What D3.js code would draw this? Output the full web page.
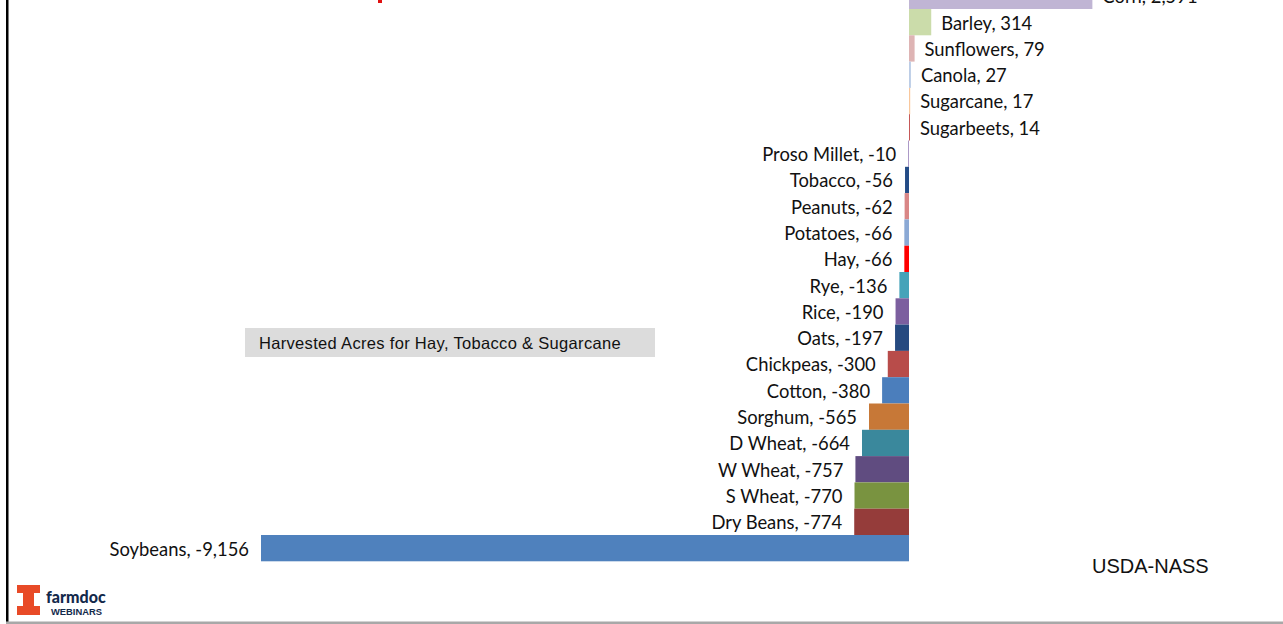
<!DOCTYPE html>
<html>
<head>
<meta charset="utf-8">
<script src="https://cdn.jsdelivr.net/npm/d3@7"></script>
<style>
  body { margin: 0; background: #fff; }
  svg { display: block; }
</style>
</head>
<body>
<script>
const width = 1283,
  height = 624;

// Change in planted acres (1,000 acres), top to bottom
const crops = ["Corn", "Barley", "Sunflowers", "Canola", "Sugarcane", "Sugarbeets",
  "Proso Millet", "Tobacco", "Peanuts", "Potatoes", "Hay", "Rye", "Rice", "Oats",
  "Chickpeas", "Cotton", "Sorghum", "D Wheat", "W Wheat", "S Wheat", "Dry Beans", "Soybeans"];
const values = [2591, 314, 79, 27, 17, 14, -10, -56, -62, -66, -66, -136, -190, -197,
  -300, -380, -565, -664, -757, -770, -774, -9156];
const colors = ["#c0b5d4", "#cbdcaa", "#deb4b4", "#bccde6", "#f9c79c", "#c65757",
  "#8a6fb0", "#244c86", "#d98686", "#8ba9d5", "#ff0000", "#45a3b9", "#7c5f9f", "#264a80",
  "#b84c4a", "#4b7ebc", "#c77837", "#3a889c", "#604c80", "#799340", "#953c3a", "#4f81bd"];

const fmt = d3.formatLocale({ decimal: ".", thousands: ",", grouping: [3], currency: ["", ""], minus: "-" }).format(",");

const data = crops.map((c, i) => ({ crop: c, value: values[i], color: colors[i] }));

const svg = d3.select("body").append("svg")
  .attr("width", width)
  .attr("height", height);

const x = d3.scaleLinear()
  .domain([-9156, 0])
  .range([261, 909]);

const y = d3.scaleBand()
  .domain(crops)
  .range([-17.3, 561.3])
  .padding(0);

svg.selectAll("rect.bar")
  .data(data)
  .enter()
  .append("rect")
  .attr("class", "bar")
  .attr("x", d => x(Math.min(0, d.value)))
  .attr("y", d => y(d.crop))
  .attr("width", d => Math.abs(x(d.value) - x(0)))
  .attr("height", y.bandwidth())
  .attr("fill", d => d.color);

svg.selectAll("text.lbl")
  .data(data)
  .enter()
  .append("text")
  .attr("class", "lbl")
  .attr("x", d => d.value >= 0 ? x(d.value) + 10 : x(d.value) - 12)
  .attr("y", d => y(d.crop) + y.bandwidth() / 2)
  .attr("dy", "0.4em")
  .attr("text-anchor", d => d.value >= 0 ? "start" : "end")
  .attr("font-family", "Lato, 'Open Sans', sans-serif")
  .attr("font-size", 18.4)
  .attr("fill", "#111")
  .text(d => `${d.crop}, ${fmt(d.value)}`);

// note box
svg.append("rect")
  .attr("x", 245).attr("y", 328)
  .attr("width", 410).attr("height", 29)
  .attr("fill", "#dcdcdc");
svg.append("text")
  .attr("x", 259).attr("y", 349)
  .attr("font-family", "'Liberation Sans', Arial, sans-serif")
  .attr("font-size", 16.5)
  .attr("letter-spacing", 0.32)
  .attr("fill", "#111")
  .text("Harvested Acres for Hay, Tobacco & Sugarcane");

svg.append("text")
  .attr("x", 1092).attr("y", 573)
  .attr("font-family", "'Liberation Sans', Arial, sans-serif")
  .attr("font-size", 20)
  .attr("fill", "#111")
  .text("USDA-NASS");

// small red mark at top
svg.append("rect")
  .attr("x", 378).attr("y", 0)
  .attr("width", 4).attr("height", 3)
  .attr("fill", "#e01010");

// frame lines
svg.append("rect")
  .attr("x", 6).attr("y", 0)
  .attr("width", 2.5).attr("height", 622)
  .attr("fill", "#000");
svg.append("rect")
  .attr("x", 6).attr("y", 621.5)
  .attr("width", width - 6).attr("height", 2.5)
  .attr("fill", "#a8a8a8");

// farmdoc logo
svg.append("path")
  .attr("d", "M17,585 H40 V593 H34 V606 H40 V615 H17 V606 H23 V593 H17 Z")
  .attr("fill", "#e84a27");
svg.append("text")
  .attr("x", 46).attr("y", 602.5)
  .attr("font-family", "Lato, 'DejaVu Sans', sans-serif")
  .attr("font-weight", "900")
  .attr("font-size", 16)
  .attr("fill", "#13294b")
  .text("farmdoc");
svg.append("text")
  .attr("x", 51).attr("y", 615)
  .attr("font-family", "'Liberation Sans', Arial, sans-serif")
  .attr("font-weight", "bold")
  .attr("font-size", 9.4)
  .attr("fill", "#13294b")
  .text("WEBINARS");
</script>
</body>
</html>
